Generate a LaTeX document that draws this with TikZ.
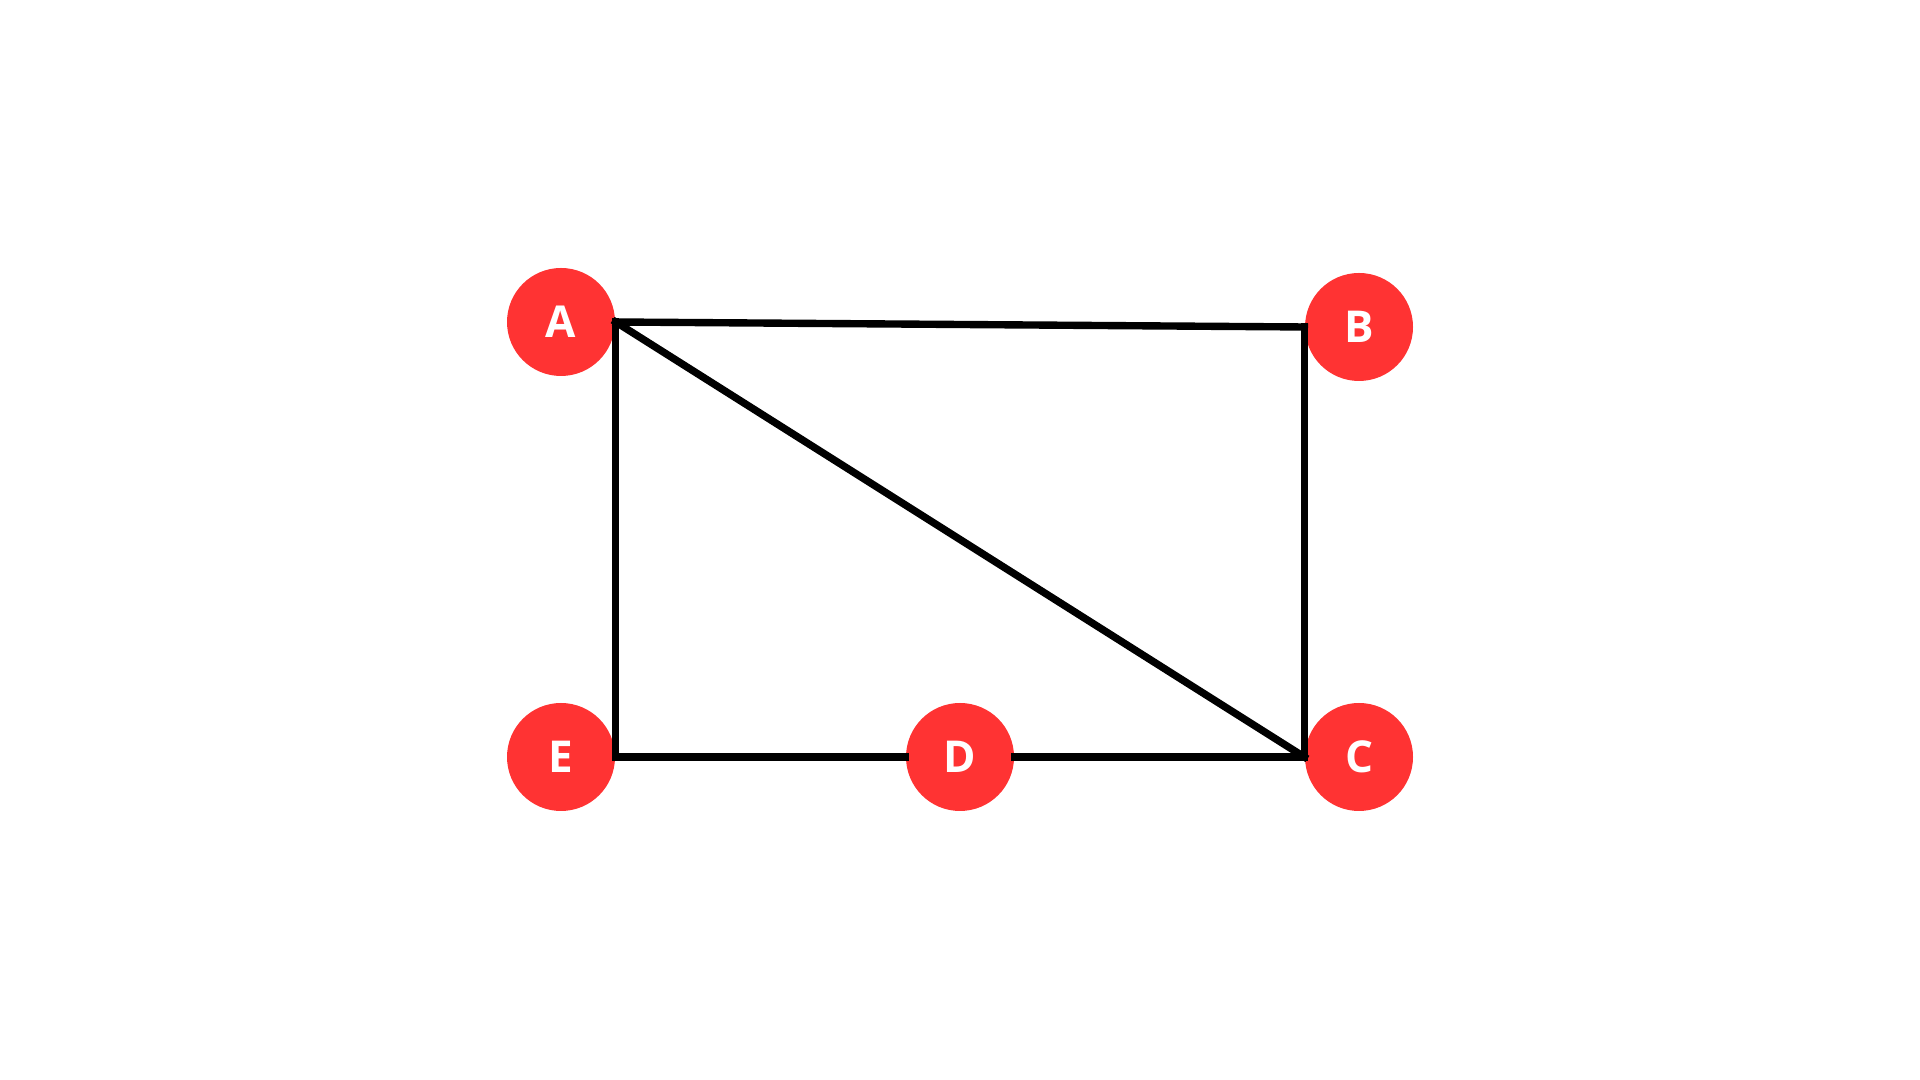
\documentclass[tikz,border=0pt]{standalone}
\usepackage{fontspec}
\setmainfont{Open Sans}
\definecolor{nodered}{HTML}{FF3333}
\begin{document}
\begin{tikzpicture}[
  vertex/.style={circle, fill=nodered, draw=none, minimum size=1.08cm, inner sep=0pt,
    text=white, font=\bfseries\fontsize{12.5}{12.5}\selectfont},
  edge/.style={line width=2.1pt, black, line cap=rect}
]
\useasboundingbox[fill=white] (0,0) rectangle (19.2,10.8);
\node[vertex] (A) at (5.61,7.58) {A};
\node[vertex] (B) at (13.59,7.53) {B};
\node[vertex] (C) at (13.59,3.23) {C};
\node[vertex] (D) at (9.60,3.23) {D};
\node[vertex] (E) at (5.61,3.23) {E};
\draw[edge] (A.east) -- (B.west);
\draw[edge] (A.east) -- (E.east);
\draw[edge] (A.east) -- (C.west);
\draw[edge] (B.west) -- (C.west);
\draw[edge] (E.east) -- (D.west);
\draw[edge] (D.east) -- (C.west);
\end{tikzpicture}
\end{document}
